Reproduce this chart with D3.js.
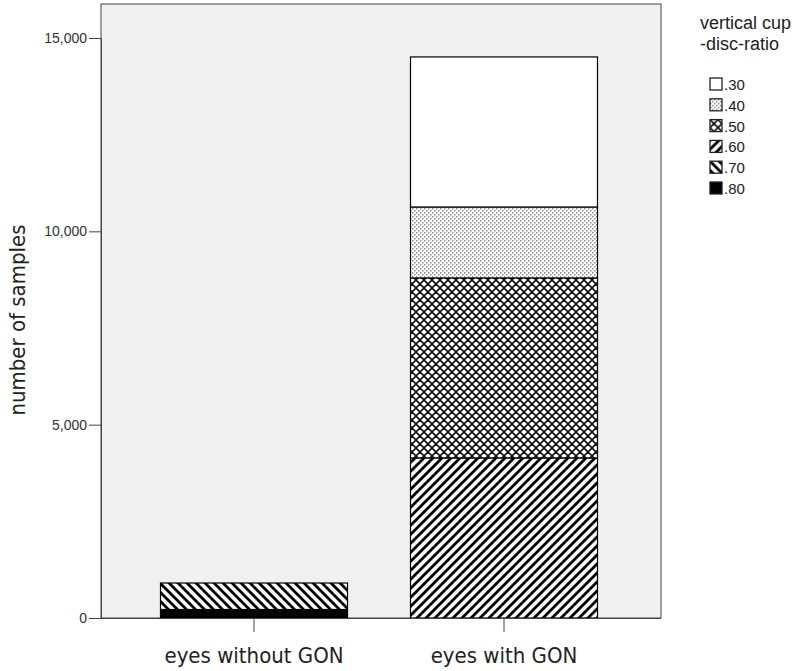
<!DOCTYPE html>
<html><head><meta charset="utf-8">
<script src="https://cdn.jsdelivr.net/npm/d3@7"></script>
<style>body{margin:0;background:#fff}</style>
</head><body>
<script>
const categories = ["eyes without GON", "eyes with GON"];
const ratios = [".30", ".40", ".50", ".60", ".70", ".80"];
// values per ratio, per category
const v30 = [0, 3880];
const v40 = [0, 1835];
const v50 = [0, 4655];
const v60 = [0, 4140];
const v70 = [685, 0];
const v80 = [220, 0];
const yTicks = [0, 5000, 10000, 15000];
const legendTitle = ["vertical cup", "-disc-ratio"];

const series = {".30": v30, ".40": v40, ".50": v50, ".60": v60, ".70": v70, ".80": v80};
const stackOrder = [".80", ".70", ".60", ".50", ".40", ".30"];
const table = categories.map((c, i) => {
  const o = {cat: c};
  ratios.forEach(r => o[r] = series[r][i]);
  return o;
});

const W = 800, H = 671;
const svg = d3.select("body").append("svg").attr("width", W).attr("height", H);
const defs = svg.append("defs");

function pat(id, size) {
  return defs.append("pattern").attr("id", id).attr("patternUnits", "userSpaceOnUse")
    .attr("width", size).attr("height", size);
}
let p = pat("p40", 4);
p.append("rect").attr("width", 4).attr("height", 4).attr("fill", "#fff");
p.append("rect").attr("x", 0).attr("y", 0).attr("width", 1.5).attr("height", 1.5).attr("fill", "#8a8a8a");
p.append("rect").attr("x", 2).attr("y", 2).attr("width", 1.5).attr("height", 1.5).attr("fill", "#8a8a8a");

p = pat("p50", 8);
p.append("rect").attr("width", 8).attr("height", 8).attr("fill", "#fff");
p.append("path").attr("d", "M0,0L8,8M8,0L0,8M-4,4L4,12M4,-4L12,4M4,12L12,4M-4,4L4,-4").attr("stroke", "#111").attr("stroke-width", 1.6);

p = pat("p60", 9);
p.append("rect").attr("width", 9).attr("height", 9).attr("fill", "#fff");
p.append("path").attr("d", "M-2,11L11,-2M-2,2L2,-2M7,11L11,7").attr("stroke", "#000").attr("stroke-width", 2.8);

p = pat("p70", 9);
p.append("rect").attr("width", 9).attr("height", 9).attr("fill", "#fff");
p.append("path").attr("d", "M-2,-2L11,11M-2,7L2,11M7,-2L11,2").attr("stroke", "#000").attr("stroke-width", 2.8);

const fills = {".30": "#fff", ".40": "url(#p40)", ".50": "url(#p50)", ".60": "url(#p60)", ".70": "url(#p70)", ".80": "#000"};

const plot = {left: 101, top: 4, right: 661, bottom: 618};
const y = d3.scaleLinear().domain([0, 15000]).range([plot.bottom, 38]);
const x = d3.scaleBand().domain(categories).range([99, 659]).paddingInner(0.252).paddingOuter(0.246);

svg.append("rect").attr("x", plot.left).attr("y", plot.top)
  .attr("width", plot.right - plot.left).attr("height", plot.bottom - plot.top)
  .attr("fill", "#f0f0f0").attr("stroke", "#444").attr("stroke-width", 1);

const stack = d3.stack().keys(stackOrder)(table);
const g = svg.append("g");
stack.forEach(layer => {
  g.selectAll(null).data(layer.filter(d => d[1] - d[0] > 0)).enter().append("rect")
    .attr("x", d => x(d.data.cat))
    .attr("width", x.bandwidth())
    .attr("y", d => y(d[1]))
    .attr("height", d => y(d[0]) - y(d[1]))
    .attr("fill", fills[layer.key])
    .attr("stroke", "#000").attr("stroke-width", 1.2);
});

// y axis
const ya = svg.append("g").attr("transform", `translate(${plot.left},0)`)
  .call(d3.axisLeft(y).tickValues(yTicks).tickFormat(d3.format(",")).tickSize(12).tickPadding(2));
ya.select(".domain").attr("stroke", "#444");
ya.selectAll(".tick line").attr("stroke", "#444");
ya.selectAll("text").attr("font-family", "Liberation Sans, Arial, sans-serif").attr("font-size", 14).attr("fill", "#333");

// x axis
const xa = svg.append("g").attr("transform", `translate(0,${plot.bottom})`)
  .call(d3.axisBottom(x).tickSize(14).tickPadding(15));
xa.select(".domain").attr("stroke", "#444").attr("d", `M${plot.left},0.5H${plot.right}`);
xa.selectAll(".tick line").attr("stroke", "#444");
xa.selectAll("text").attr("font-family", "DejaVu Sans Condensed, DejaVu Sans, sans-serif")
  .attr("font-stretch", "condensed").attr("font-size", 22).attr("fill", "#222");

// y title
svg.append("text").attr("transform", `translate(25,320) rotate(-90)`)
  .attr("text-anchor", "middle").attr("font-family", "DejaVu Sans Condensed, DejaVu Sans, sans-serif")
  .attr("font-stretch", "condensed").attr("font-size", 22).attr("fill", "#222").text("number of samples");

// legend
const lg = svg.append("g");
lg.selectAll("text.t").data(legendTitle).enter().append("text")
  .attr("x", 700).attr("y", (d, i) => 29 + i * 21)
  .attr("font-family", "Liberation Sans, Arial, sans-serif").attr("font-size", 18).attr("fill", "#222").text(d => d);
const items = lg.selectAll("g.it").data(ratios).enter().append("g")
  .attr("transform", (d, i) => `translate(710,${78 + i * 20.8})`);
items.append("rect").attr("width", 12).attr("height", 12).attr("fill", d => fills[d])
  .attr("stroke", "#222").attr("stroke-width", 1.3);
items.append("text").attr("x", 14).attr("y", 12).attr("font-family", "Liberation Sans, Arial, sans-serif")
  .attr("font-size", 15).attr("fill", "#222").text(d => d);
</script>
</body></html>
